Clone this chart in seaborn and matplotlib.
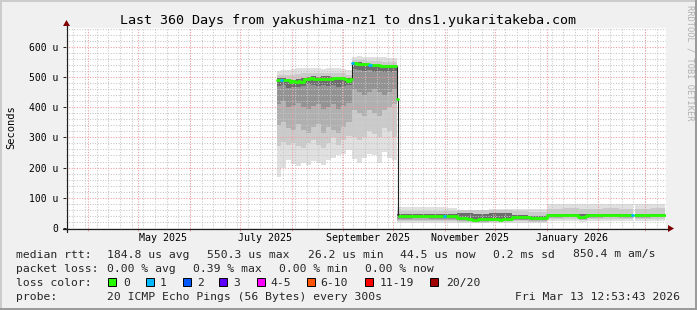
import numpy as np
import pandas as pd
import matplotlib
matplotlib.use("Agg")
import matplotlib.pyplot as plt
from matplotlib.patches import Rectangle, Polygon
from matplotlib.lines import Line2D
import seaborn as sns

sns.set_theme(style="white")
plt.rcParams["font.family"] = ["DejaVu Sans Mono", "DejaVu Sans"]

# ---------------- data ----------------
title = "Last 360 Days from yakushima-nz1 to dns1.yukaritakeba.com"
end_time = pd.Timestamp("2026-03-13 12:53:43")
span_days = 360
y_max = 662

y_ticks = [0, 100, 200, 300, 400, 500, 600]
y_tick_labels = ["0", "100 u", "200 u", "300 u", "400 u", "500 u", "600 u"]
x_label_months = ["2025-05-01", "2025-07-01", "2025-09-01", "2025-11-01", "2026-01-01"]
x_tick_labels = ["May 2025", "July 2025", "September 2025", "November 2025", "January 2026"]

# smoke bins: start day (days since graph start) and RTT bounds in microseconds
smoke_day = [126.6, 129, 132, 135, 138, 141, 144, 147, 150, 153, 156, 159, 162, 165, 168,
             171.6, 174.6, 177.6, 180.6, 183.6, 186.6, 189.6, 192.6, 195.6,
             198.6, 208.2, 217.8, 227.4, 234.6, 244.2, 253.8, 267.6, 277.2,
             288.6, 298.2, 307.8, 312.6, 322.2, 331.8, 340.2, 341.4, 351]
smoke_top = [520, 522, 524, 526, 528, 530, 528, 530, 528, 526, 528, 530, 528, 526, 522,
             566, 568, 567, 566, 565, 566, 565, 564, 562,
             70, 71, 69, 67, 60, 60, 62, 63, 63,
             80, 81, 79, 80, 80, 79, np.nan, 80, 81]
smoke_up2 = [508, 508, 508, 508, 510, 512, 514, 514, 514, 514, 514, 514, 512, 512, 508,
             556, 557, 556, 554, 552, 552, 551, 550, 549,
             56, 57, 56, 55, 58, 58, 59, 55, 54,
             64, 65, 64, 64, 65, 64, np.nan, 64, 65]
smoke_up = [496, 496, 492, 490, 492, 495, 500, 502, 501, 502, 502, 501, 501, 500, 496,
            549, 548, 546, 544, 541, 541, 540, 540, 539,
            45, 46, 45, 45, 48, 47, 48, 42, 40,
            47, 47, 46, 47, 47, 47, np.nan, 47, 47]
smoke_lo0 = [470, 472, 465, 466, 468, 470, 475, 472, 470, 474, 470, 472, 468, 470, 472,
             525, 522, 520, 522, 518, 520, 516, 518, 520,
             36, 37, 36, 36, 28, 26, 27, 31, 29,
             41, 42, 33, 41, 42, 41, np.nan, 41, 42]
smoke_lo1 = [410, 420, 400, 405, 415, 400, 395, 405, 410, 395, 400, 410, 395, 405, 415,
             460, 450, 440, 450, 460, 450, 440, 450, 460,
             31, 32, 31, 31, 25, 23, 24, 28, 27,
             38, 39, 30, 38, 39, 38, np.nan, 38, 39]
smoke_lo2 = [340, 350, 330, 325, 345, 325, 315, 335, 345, 315, 335, 325, 315, 335, 350,
             390, 380, 370, 390, 380, 370, 390, 400, 410,
             27, 28, 27, 27, 22, 21, 22, 25, 24,
             34, 35, 28, 34, 35, 34, np.nan, 34, 35]
smoke_lo3 = [270, 285, 275, 280, 270, 265, 280, 290, 275, 265, 280, 300, 275, 290, 305,
             300, 290, 300, 320, 310, 300, 330, 320, 300,
             22, 23, 22, 22, 19, 18, 19, 22, 21,
             29, 30, 25, 29, 30, 29, np.nan, 29, 30]
smoke_bottom = [170, 200, 225, 212, 205, 215, 208, 222, 215, 210, 225, 232, 240, 245, 258,
                230, 215, 232, 245, 240, 215, 250, 232, 225,
                16, 17, 17, 17, 16, 16, 16, 18, 18,
                23, 24, 21, 23, 24, 23, np.nan, 23, 24]
data_end_day = 359.6

# median RTT steps: start day, value (us), loss class (0 = none lost, 1 = one lost, -1 = unclassified)
med_day = [126.6, 128.8, 129.6, 134.4, 135.6, 137.4, 139.2, 140.4, 142.8, 146.4, 148.2, 160.2,
           166.8, 168.6, 170.4, 171.6, 172.2, 174.6, 182.0, 182.8, 186.0, 188.4, 190.8, 193.2,
           195.6, 197.4, 198.2, 198.6, 199.2, 199.5, 204.0, 209.0, 212.0, 216.0, 220.0, 226.8,
           227.6, 231.0, 234.6, 240.6, 243.6, 247.2, 250.2, 256.2, 259.8, 261.6, 267.6, 278.4,
           282.6, 288.6, 306.0, 307.2, 309.6, 311.4, 312.6, 320.0, 339.6, 340.2, 341.4]
med_val = [490, 490, 490, 484, 488, 482, 487, 484, 492, 497, 494, 495,
           493, 488, 492, 546, 546, 543, 540, 539, 538, 535, 537, 535,
           537, 536, 536, 427, 41, 41, 40, 41, 39, 40, 41, 40,
           40, 41, 32, 30, 28, 29, 30, 30, 28, 30, 35, 33,
           32, 43, 42, 38, 36, 40, 43, 44, 44, np.nan, 44]
med_loss = [0, 1, 0, 0, 0, 0, 0, 0, 0, 0, 0, 0,
            0, 0, 0, 1, 0, 0, 1, 0, 0, 0, 0, 0,
            0, 0, -1, 0, -1, 0, 0, 0, 0, 0, 0, 1,
            0, 0, 0, 0, 0, 0, 0, 0, 0, 0, 0, 0,
            0, 0, 0, 0, 0, 0, 0, 0, 1, -1, 0]

loss_labels = ["0", "1", "2", "3", "4-5", "6-10", "11-19", "20/20"]
loss_colors = ["#26ff00", "#00b8ff", "#0059ff", "#5e00ff", "#ff00ff", "#ff5500", "#ff0000", "#a00000"]

rtt_stats = ["184.8 us avg", "550.3 us max", "26.2 us min", "44.5 us now", "0.2 ms sd", "850.4 m am/s"]
loss_stats = ["0.00 % avg", "0.39 % max", "0.00 % min", "0.00 % now"]
probe_text = "20 ICMP Echo Pings (56 Bytes) every 300s"
stamp_text = "Fri Mar 13 12:53:43 2026"

# ---------------- figure ----------------
W, H = 697, 310
fig = plt.figure(figsize=(W / 100, H / 100), dpi=100, facecolor="#f0f0f0")


def fx(px):
    return px / W


def fy(py):
    return 1 - py / H


ax = fig.add_axes([fx(66), fy(228), 600 / W, 200 / H])
ax.set_facecolor("white")
ax.set_xlim(0, span_days)
ax.set_ylim(0, y_max)
for s in ax.spines.values():
    s.set_visible(False)

start_time = end_time - pd.Timedelta(days=span_days)


def to_day(ts):
    return (pd.Timestamp(ts) - start_time) / pd.Timedelta(days=1)


def step_xy(days, vals, end):
    edges = list(days[1:]) + [end]
    xs, ys = [], []
    for d0, d1, v in zip(days, edges, vals):
        xs += [d0, d1]
        ys += [v, v]
    return np.array(xs, float), np.array(ys, float)


# smoke layers (outer -> inner)
layers = [(smoke_bottom, smoke_top, "#e0e0e0"),
          (smoke_lo3, smoke_up2, "#cbcbcb"),
          (smoke_lo2, smoke_up, "#b0b0b0"),
          (smoke_lo1, smoke_up, "#939393"),
          (smoke_lo0, smoke_up, "#6c6c6c")]
for lo, hi, c in layers:
    xs, ylo = step_xy(smoke_day, lo, data_end_day)
    _, yhi = step_xy(smoke_day, hi, data_end_day)
    ax.fill_between(xs, ylo, yhi, color=c, lw=0, zorder=1)

# grid
minor_c = "#c6c6c6"
major_c = "#f29a9a"
dots = (0, (1, 1.5))
weeks = pd.date_range(start_time.normalize(), end_time, freq="W-SUN")
months = pd.date_range(start_time.normalize(), end_time, freq="MS")
for w in weeks:
    ax.axvline(to_day(w), color=minor_c, lw=0.75, ls=dots, zorder=2)
for yv in range(20, y_max, 20):
    if yv % 100:
        ax.axhline(yv, color=minor_c, lw=0.75, ls=dots, zorder=2)
for m in months:
    ax.axvline(to_day(m), color=major_c, lw=0.75, ls=dots, zorder=2.1)
for yv in y_ticks[1:]:
    ax.axhline(yv, color=major_c, lw=0.75, ls=dots, zorder=2.1)


# median lines
def build_runs(days, vals, codes, end, colored):
    edges = list(days[1:]) + [end]
    rows = []
    run = -1
    prev = None
    for d0, d1, v, c in zip(days, edges, vals, codes):
        ok = (not np.isnan(v)) and (c >= 0 or not colored)
        if ok:
            if prev is None or (colored and prev != c):
                run += 1
            rows.append((d0, v, run, c))
            rows.append((d1, v, run, c))
            prev = c
        else:
            prev = None
    return pd.DataFrame(rows, columns=["day", "rtt", "run", "loss"])


dark_df = build_runs(med_day, med_val, med_loss, data_end_day, colored=False)
sns.lineplot(data=dark_df, x="day", y="rtt", units="run", estimator=None, sort=False,
             color="#202020", linewidth=0.8, ax=ax, zorder=3, legend=False)
col_df = build_runs(med_day, med_val, med_loss, data_end_day, colored=True)
sns.lineplot(data=col_df, x="day", y="rtt", units="run", hue="loss", estimator=None, sort=False,
             palette={i: loss_colors[i] for i in sorted(col_df["loss"].unique())},
             linewidth=2.0, ax=ax, zorder=4, legend=False)
ax.set_xlabel("")
ax.set_ylabel("")

# ticks
axis_c = "#1e1e1e"
ax.set_yticks(y_ticks, y_tick_labels, fontsize=7)
ax.tick_params(axis="y", length=2.2, width=0.7, color=axis_c, pad=3.6, labelcolor="black", left=True)
ax.set_xticks([to_day(m) + 15 for m in x_label_months], x_tick_labels, fontsize=7.2)
ax.set_xticks([to_day(m) for m in months], minor=True)
ax.tick_params(axis="x", which="major", length=0, pad=3.5, labelcolor="black")
ax.tick_params(axis="x", which="minor", length=2.2, width=0.7, color=major_c, bottom=True)

# axes + arrows
arrow_c = "#7f0000"
fig.add_artist(Line2D([fx(63), fx(668)], [fy(228.5), fy(228.5)], color=axis_c, lw=0.9))
fig.add_artist(Polygon([[fx(668), fy(225)], [fx(674), fy(228.5)], [fx(668), fy(232)]],
                       closed=True, color=arrow_c, lw=0))
fig.add_artist(Line2D([fx(66.5), fx(66.5)], [fy(231.5), fy(26)], color=axis_c, lw=0.9))
fig.add_artist(Polygon([[fx(63), fy(26)], [fx(66.5), fy(20)], [fx(70), fy(26)]],
                       closed=True, color=arrow_c, lw=0))

# title, unit label, watermark
fig.text(fx(348), fy(23.7), title, ha="center", va="baseline", fontsize=9.6, color="black")
fig.text(fx(11), fy(127), "Seconds", rotation=90, ha="center", va="center", fontsize=7.5, color="black")
fig.text(fx(690), fy(5), "RRDTOOL / TOBI OETIKER", rotation=270, ha="center", va="top",
         fontsize=6.2, color="#b0b0b0")

# legend block (justified pieces)
fs = 8.2
base1, base2, base3, base4 = 257.5, 271.5, 285.7, 299.8
fig.text(fx(16), fy(base1), "median rtt:", fontsize=fs, va="baseline")
for xp, t in zip([107.3, 207.3, 308.3, 400, 493.3, 573], rtt_stats):
    fig.text(fx(xp), fy(base1), t, fontsize=fs, va="baseline")
fig.text(fx(16), fy(base2), "packet loss:", fontsize=fs, va="baseline")
for xp, t in zip([107.3, 193.3, 279.3, 365], loss_stats):
    fig.text(fx(xp), fy(base2), t, fontsize=fs, va="baseline")
fig.text(fx(16), fy(base3), "loss color:", fontsize=fs, va="baseline")
box_x = [108.3, 145.7, 182.7, 219.3, 256.7, 306.7, 365, 430]
lab_x = [123.3, 159.3, 196.7, 233.3, 270, 320, 380, 445.7]
for bx, lx, lab, c in zip(box_x, lab_x, loss_labels, loss_colors):
    fig.add_artist(Rectangle((fx(bx), fy(286)), 8 / W, 8.5 / H, facecolor=c,
                             edgecolor="black", lw=0.7))
    fig.text(fx(lx), fy(base3), lab, fontsize=fs, va="baseline")
fig.text(fx(16), fy(base4), "probe:", fontsize=fs, va="baseline")
fig.text(fx(107.3), fy(base4), probe_text, fontsize=fs, va="baseline")
fig.text(fx(680), fy(base4), stamp_text, fontsize=fs, va="baseline", ha="right")

# 3D frame
fig.add_artist(Line2D([0, 1], [fy(0.5), fy(0.5)], color="#cbcbcb", lw=1.4))
fig.add_artist(Line2D([fx(0.5), fx(0.5)], [0, 1], color="#cbcbcb", lw=1.4))
fig.add_artist(Line2D([0, 1], [fy(309.3), fy(309.3)], color="#999999", lw=1.4))
fig.add_artist(Line2D([fx(696.3), fx(696.3)], [0, 1], color="#999999", lw=1.4))

fig.savefig("out.png", dpi=100, facecolor=fig.get_facecolor())
